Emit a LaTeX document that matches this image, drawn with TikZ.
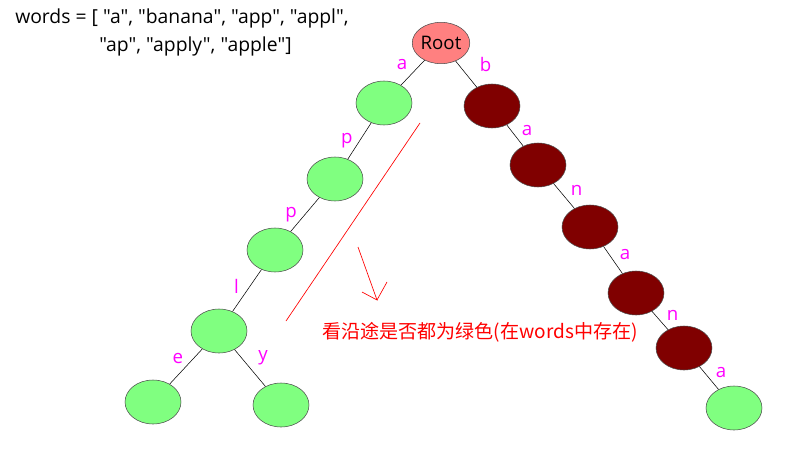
\documentclass[tikz,border=0pt]{standalone}
\usepackage{fontspec}
\setmainfont{Open Sans}[Ligatures=TeXOff]
\newfontfamily\cjk{Noto Sans CJK SC}
\usepackage{tikz}
\usepackage{xcolor}
\usetikzlibrary{shapes.geometric}
\definecolor{leafgreen}{HTML}{80FF80}
\definecolor{darkred}{HTML}{800000}
\definecolor{rootpink}{HTML}{FF8080}
\definecolor{labelpink}{HTML}{FF00FF}
\tikzset{
    trie-node/.style = {draw=black!70, thin, ellipse, minimum width=42pt, minimum height=33pt, inner sep=0pt},
    green-node/.style = {trie-node, fill=leafgreen},
    red-node/.style = {trie-node, fill=darkred},
    root-node/.style = {trie-node, fill=rootpink, minimum width=42pt, minimum height=31pt, font=\fontsize{14}{16}\selectfont},
    edge-label/.style = {text=labelpink, font=\fontsize{14}{16}\selectfont, inner sep=2pt},
    right-label/.style = {edge-label, right=3pt, yshift=4pt},
    word-text/.style = {font=\fontsize{14.5}{17}\selectfont, anchor=west, inner sep=0pt},
    trie-edge/.style = {draw=black, line width=0.4pt},
}

\begin{document}
\begin{tikzpicture}[x=0.75pt, y=-0.75pt]
\useasboundingbox (0,0) rectangle (803,467);
% the word list
\node[word-text] (words1) at (15,18) {words = [ "a", "banana", "app", "appl",};
\node[word-text] (words2) at (99,46) {"ap", "apply", "apple"]};
% nodes
\node[root-node] (root) at (441,43) {Root};
\node[green-node] (a1) at (384,103) {};
\node[green-node] (p1) at (335,179) {};
\node[green-node] (p2) at (275,250) {};
\node[green-node] (l1) at (219,331) {};
\node[green-node] (e1) at (153,402) {};
\node[green-node] (y1) at (281,405) {};
\node[red-node] (b1) at (492,106) {};
\node[red-node] (ba) at (538,165) {};
\node[red-node] (ban) at (590,227) {};
\node[red-node] (bana) at (636,293) {};
\node[red-node] (banan) at (684,348) {};
\node[green-node] (banana) at (734,408) {};
% edges
\path[trie-edge] (root) -- node[edge-label, above left, xshift=-2pt] {a} (a1);
\path[trie-edge] (a1) -- node[edge-label, left=3pt] {p} (p1);
\path[trie-edge] (p1) -- node[edge-label, left=4pt] {p} (p2);
\path[trie-edge] (p2) -- node[edge-label, left=4pt, yshift=3pt] {l} (l1);
\path[trie-edge] (l1) -- node[edge-label, above left] {e} (e1);
\path[trie-edge] (l1) -- node[edge-label, above right, xshift=4pt] {y} (y1);
\path[trie-edge] (root) -- node[edge-label, above right, xshift=8pt] {b} (b1);
\path[trie-edge] (b1) -- node[right-label] {a} (ba);
\path[trie-edge] (ba) -- node[right-label] {n} (ban);
\path[trie-edge] (ban) -- node[right-label] {a} (bana);
\path[trie-edge] (bana) -- node[right-label] {n} (banan);
\path[trie-edge] (banan) -- node[right-label] {a} (banana);
% the hint
\coordinate (slash-top) at (420,123);
\coordinate (slash-bot) at (286,321);
\draw[red, line width=0.5pt] (slash-top) -- (slash-bot);
\coordinate (arrow-start) at (358,247);
\coordinate (arrow-tip) at (377,300);
\draw[red, line width=0.5pt] (arrow-start) -- (arrow-tip) -- (362,292) (arrow-tip) -- (387,282);
\node[text=red, font=\cjk\fontsize{14.3}{17}\selectfont, anchor=west, inner sep=0pt] (hint) at (322,332) {看沿途是否都为绿色(在words中存在)};
\end{tikzpicture}
\end{document}
